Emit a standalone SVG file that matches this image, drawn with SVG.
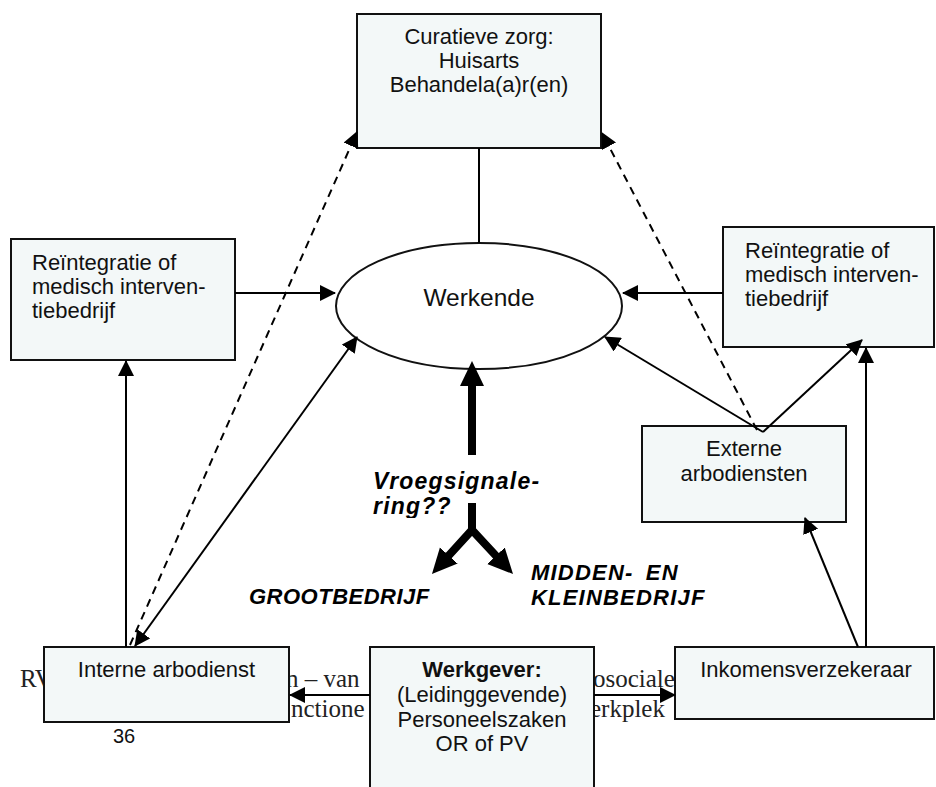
<svg xmlns="http://www.w3.org/2000/svg" width="936" height="787" viewBox="0 0 936 787">
<style>
.node rect{fill:#f3f8f8;stroke:#111;stroke-width:2}
.node ellipse{fill:#fff;stroke:#111;stroke-width:2}
.lbl{font-family:"Liberation Sans",Arial,sans-serif;font-size:22px;fill:#111}
.c{text-anchor:middle}
.b{font-weight:bold}
.conn{stroke:#000;stroke-width:2;fill:none}
.dash{stroke-dasharray:8 6}
.thick{stroke:#000;stroke-width:8;fill:none}
.bi{font-family:"Liberation Sans",Arial,sans-serif;font-weight:bold;font-style:italic;fill:#000}
.bg{font-family:"Liberation Serif","Times New Roman",serif;font-size:25px;fill:#222}
</style>
<defs>
<marker id="ah" markerUnits="userSpaceOnUse" markerWidth="16" markerHeight="16" viewBox="0 0 16 16" refX="15" refY="8" orient="auto-start-reverse"><path d="M0,0 L16,8 L0,16 z" fill="#000"/></marker>
<marker id="big" markerUnits="userSpaceOnUse" markerWidth="26" markerHeight="26" viewBox="0 0 26 26" refX="8" refY="13" orient="auto-start-reverse"><path d="M0,1 L25,13 L0,25 z" fill="#000"/></marker>
<clipPath id="clipV"><rect x="300" y="460" width="300" height="58"/></clipPath>
</defs>

<g id="background-text">
<text class="bg" x="20" y="687">RV</text>
<text class="bg" x="286" y="687">n – van</text>
<text class="bg" x="291" y="717">nctione</text>
<text class="bg" x="593" y="687">osociale</text>
<text class="bg" x="590" y="717">erkplek</text>
<text class="lbl" x="113" y="743" style="font-size:20px">36</text>
</g>

<g id="curatieve-zorg" class="node">
<rect x="357" y="14" width="244" height="134"/>
<text class="lbl c" x="479" y="44">Curatieve zorg:</text>
<text class="lbl c" x="479" y="68">Huisarts</text>
<text class="lbl c" x="479" y="92">Behandela(a)r(en)</text>
</g>

<g id="reintegratie-links" class="node">
<rect x="11" y="239" width="224" height="121"/>
<text class="lbl" x="32" y="270">Reïntegratie of</text>
<text class="lbl" x="32" y="294">medisch interven-</text>
<text class="lbl" x="32" y="318">tiebedrijf</text>
</g>

<g id="reintegratie-rechts" class="node">
<rect x="723" y="227" width="211" height="120"/>
<text class="lbl" x="745" y="258">Reïntegratie of</text>
<text class="lbl" x="745" y="282">medisch interven-</text>
<text class="lbl" x="745" y="306">tiebedrijf</text>
</g>

<g id="werkende" class="node">
<ellipse cx="479" cy="306" rx="143" ry="63"/>
<text class="lbl c" x="479" y="306" style="font-size:24.5px">Werkende</text>
</g>

<g id="externe-arbodiensten" class="node">
<rect x="642" y="426" width="204" height="96"/>
<text class="lbl c" x="744" y="456">Externe</text>
<text class="lbl c" x="744" y="481">arbodiensten</text>
</g>

<g id="interne-arbodienst" class="node">
<rect x="44" y="647" width="245" height="75"/>
<text class="lbl c" x="166.5" y="677">Interne arbodienst</text>
</g>

<g id="werkgever" class="node">
<rect x="370" y="647" width="224" height="160"/>
<text class="lbl c b" x="482" y="677">Werkgever:</text>
<text class="lbl c" x="482" y="702">(Leidinggevende)</text>
<text class="lbl c" x="482" y="727">Personeelszaken</text>
<text class="lbl c" x="482" y="751">OR of PV</text>
</g>

<g id="inkomensverzekeraar" class="node">
<rect x="675" y="647" width="259" height="72"/>
<text class="lbl c" x="806" y="677">Inkomensverzekeraar</text>
</g>

<g id="connectors">
<line class="conn" x1="479" y1="148" x2="479" y2="243"/>
<line class="conn" x1="235" y1="293" x2="335" y2="293" marker-end="url(#ah)"/>
<line class="conn" x1="723" y1="293" x2="623" y2="293" marker-end="url(#ah)"/>
<line class="conn dash" x1="130" y1="645" x2="357" y2="132" marker-end="url(#ah)"/>
<line class="conn dash" x1="757" y1="430" x2="602" y2="133" marker-end="url(#ah)"/>
<line class="conn" x1="135" y1="646" x2="357" y2="337" marker-start="url(#ah)" marker-end="url(#ah)"/>
<line class="conn" x1="126" y1="647" x2="126" y2="361" marker-end="url(#ah)"/>
<line class="conn" x1="763" y1="432" x2="605" y2="337" marker-end="url(#ah)"/>
<line class="conn" x1="763" y1="432" x2="862" y2="340" marker-end="url(#ah)"/>
<line class="conn" x1="866" y1="647" x2="866" y2="348" marker-end="url(#ah)"/>
<line class="conn" x1="858" y1="647" x2="805" y2="518" marker-end="url(#ah)"/>
<line class="conn" x1="370" y1="695" x2="290" y2="695" marker-end="url(#ah)"/>
<line class="conn" x1="594" y1="695" x2="675" y2="695" marker-end="url(#ah)"/>
<line class="thick" x1="472" y1="455" x2="472" y2="378" marker-end="url(#big)"/>
<line class="thick" x1="472" y1="503" x2="472" y2="533"/>
<path class="thick" d="M443.4,561.4 L472,530 L501.4,561.6" marker-start="url(#big)" marker-end="url(#big)"/>
</g>

<g id="labels">
<text class="bi" x="373" y="489" style="font-size:23px;letter-spacing:1.2px">Vroegsignale-</text>
<text class="bi" x="373" y="514" style="font-size:23px;letter-spacing:1.2px" clip-path="url(#clipV)">ring??</text>
<text class="bi" x="249" y="604" style="font-size:22px;letter-spacing:0.5px">GROOTBEDRIJF</text>
<text class="bi" x="531" y="580" style="font-size:22px;letter-spacing:1.2px;word-spacing:5px">MIDDEN- EN</text>
<text class="bi" x="531" y="605" style="font-size:22px;letter-spacing:1.2px">KLEINBEDRIJF</text>
</g>
</svg>
